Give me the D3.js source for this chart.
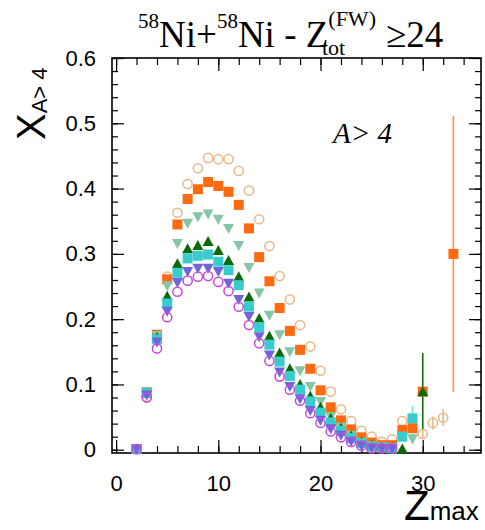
<!DOCTYPE html>
<html><head><meta charset="utf-8">
<script src="https://cdn.jsdelivr.net/npm/d3@7"></script>
<style>body{margin:0;background:#fff}</style>
</head><body>
<svg id="c" width="485" height="530"></svg>
<script>
const zmax = [2,3,4,5,6,7,8,9,10,11,12,13,14,15,16,17,18,19,20,21,22,23,24,25,26,27,28,29,30,31,32,33];
const tanCircle = [0.001,0.081,0.174,0.265,0.363,0.407,0.431,0.447,0.445,0.445,0.427,0.397,0.353,0.312,0.266,0.230,0.191,0.158,0.121,0.089,0.062,0.044,0.029,0.020,0.012,0.016,0.044,null,0.024,0.041,0.049,null];
const orangeSquare = [0.001,0.088,0.176,0.261,0.345,0.384,0.399,0.410,0.404,0.395,0.375,0.339,0.295,0.258,0.217,0.182,0.153,0.124,0.091,0.065,0.045,0.031,0.019,0.011,0.007,0.007,0.030,0.033,0.089,null,null,0.300];
const mintTriangle = [0.001,0.088,0.175,0.251,0.316,0.347,0.357,0.361,0.353,0.339,0.313,0.279,0.240,0.206,0.176,0.150,0.121,0.097,0.074,0.051,0.035,0.022,0.012,0.006,0.004,0.003,null,0.017,null,null,null,null];
const greenTriangle = [0.001,0.087,0.172,0.235,0.285,0.308,0.313,0.319,0.305,0.290,0.265,0.234,0.201,0.174,0.148,0.124,0.100,0.082,0.065,0.048,0.033,0.021,0.012,0.006,0.003,0.002,0.001,null,0.089,null,null,null];
const cyanSquare = [0.001,0.087,0.169,0.224,0.271,0.293,0.297,0.299,0.288,0.275,0.252,0.219,0.188,0.161,0.135,0.113,0.092,0.074,0.057,0.042,0.029,0.018,0.010,0.005,0.003,0.002,0.020,0.048,null,null,null,null];
const purpleTriangle = [0.001,0.084,0.165,0.212,0.256,0.273,0.278,0.278,0.273,0.255,0.230,0.204,0.173,0.145,0.119,0.097,0.078,0.060,0.045,0.032,0.022,0.013,0.007,0.003,0.002,0.002,null,null,null,null,null,null];
const magentaCircle = [0.001,0.080,0.155,0.203,0.242,0.259,0.265,0.266,0.257,0.243,0.219,0.191,0.163,0.136,0.112,0.092,0.075,0.056,0.041,0.028,0.019,0.012,0.006,0.002,0.002,0.002,null,null,null,null,null,null];

const errSeries = ["tan","tan","tan","orange","orange","green","cyan","mint"];
const errZ = [30,31,32,29,33,30,29,29];
const errVal = [0.006,0.010,0.013,0.006,0.211,0.059,0.019,0.008];

const xMajor = [0,10,20,30];
const xMinor = [0,2,4,6,8,10,12,14,16,18,20,22,24,26,28,30,32,34];
const yMajor = [0,0.1,0.2,0.3,0.4,0.5,0.6];
const yMinor = [0,0.02,0.04,0.06,0.08,0.1,0.12,0.14,0.16,0.18,0.2,0.22,0.24,0.26,0.28,0.3,0.32,0.34,0.36,0.38,0.4,0.42,0.44,0.46,0.48,0.5,0.52,0.54,0.56,0.58,0.6];
const xTickLabels = ["0","10","20","30"];
const yTickLabels = ["0","0.1","0.2","0.3","0.4","0.5","0.6"];

const series = [
  {key:"tan", vals:tanCircle, shape:"circleOpen", color:"#e8b888"},
  {key:"orange", vals:orangeSquare, shape:"square", color:"#ff6a10"},
  {key:"mint", vals:mintTriangle, shape:"triDown", color:"#86c6a6"},
  {key:"green", vals:greenTriangle, shape:"triUp", color:"#0a6a0a"},
  {key:"cyan", vals:cyanSquare, shape:"square", color:"#38cccc"},
  {key:"purple", vals:purpleTriangle, shape:"triDown", color:"#7064d8"},
  {key:"magenta", vals:magentaCircle, shape:"circleOpen", color:"#c848dc"}
];
const errColors = {tan:"#e8b888", orange:"#ff8a50", green:"#0a6a0a", cyan:"#7ee0e0", mint:"#a6d6be"};

const svg = d3.select("#c");
const L=112, R=481, T=58, B=453;
const x = d3.scaleLinear().domain([-0.4, 35.7]).range([L, R]);
const y = d3.scaleLinear().domain([-0.005, 0.6]).range([B, T]);

const sans = "'Liberation Sans', Arial, Helvetica, sans-serif";
const serif = "'Liberation Serif', 'Times New Roman', serif";

// axes ticks
function styleAxis(g){ g.select(".domain").remove(); g.selectAll("line").attr("stroke","#000").attr("stroke-width",1.2); }
svg.append("g").attr("transform",`translate(0,${B})`).call(d3.axisBottom(x).tickValues(xMinor).tickSize(-7).tickFormat("")).call(styleAxis);
svg.append("g").attr("transform",`translate(0,${B})`).call(d3.axisBottom(x).tickValues(xMajor).tickSize(-13).tickPadding(22).tickFormat((d,i)=>xTickLabels[i])).call(styleAxis)
  .selectAll("text").attr("font-family",sans).attr("font-size",22).attr("fill","#000");
svg.append("g").attr("transform",`translate(0,${T})`).call(d3.axisTop(x).tickValues(xMinor).tickSize(-7).tickFormat("")).call(styleAxis);
svg.append("g").attr("transform",`translate(0,${T})`).call(d3.axisTop(x).tickValues(xMajor).tickSize(-13).tickFormat("")).call(styleAxis);
svg.append("g").attr("transform",`translate(${L},0)`).call(d3.axisLeft(y).tickValues(yMinor).tickSize(-6).tickFormat("")).call(styleAxis);
svg.append("g").attr("transform",`translate(${L},0)`).call(d3.axisLeft(y).tickValues(yMajor).tickSize(-12).tickPadding(16).tickFormat((d,i)=>yTickLabels[i])).call(styleAxis)
  .selectAll("text").attr("font-family",sans).attr("font-size",22).attr("fill","#000");
svg.append("g").attr("transform",`translate(${R},0)`).call(d3.axisRight(y).tickValues(yMinor).tickSize(-6).tickFormat("")).call(styleAxis);
svg.append("g").attr("transform",`translate(${R},0)`).call(d3.axisRight(y).tickValues(yMajor).tickSize(-12).tickFormat("")).call(styleAxis);

// frame
svg.append("rect").attr("x",L).attr("y",T).attr("width",R-L).attr("height",B-T)
  .attr("fill","none").attr("stroke","#000").attr("stroke-width",1.6);

// error bars
const gE = svg.append("g");
errZ.forEach((z,i)=>{
  const s = series.find(d=>d.key===errSeries[i]);
  const v = s.vals[zmax.indexOf(z)];
  gE.append("line").attr("x1",x(z)).attr("x2",x(z))
    .attr("y1",y(v-errVal[i])).attr("y2",y(v+errVal[i]))
    .attr("stroke",errColors[errSeries[i]]).attr("stroke-width",1.6);
});

// markers
const gM = svg.append("g");
series.forEach(s=>{
  const pts = zmax.map((z,i)=>({z, v:s.vals[i]})).filter(d=>d.v!==null);
  const sel = gM.append("g").selectAll("path").data(pts).enter().append("path")
    .attr("transform",d=>`translate(${x(d.z)},${y(d.v)})`);
  if(s.shape==="square"){
    sel.attr("d","M-5,-5H5V5H-5Z").attr("fill",s.color);
  } else if(s.shape==="triUp"){
    sel.attr("d","M-5.5,4.5L5.5,4.5L0,-5.5Z").attr("fill",s.color);
  } else if(s.shape==="triDown"){
    sel.attr("d","M-5.5,-4.5L5.5,-4.5L0,5.5Z").attr("fill",s.color);
  } else {
    sel.attr("d",d3.arc()({innerRadius:0,outerRadius:4.6,startAngle:0,endAngle:2*Math.PI}))
      .attr("fill","none").attr("stroke",s.color).attr("stroke-width",1.5);
  }
});

// title
const title = svg.append("text").attr("x",138).attr("y",47).attr("font-family",serif).attr("font-size",37).attr("fill","#000");
title.append("tspan").attr("font-size",21).attr("dy",-19).text("58");
title.append("tspan").attr("dy",19).text("Ni+");
title.append("tspan").attr("font-size",21).attr("dy",-19).text("58");
title.append("tspan").attr("dy",19).text("Ni - Z");
title.append("tspan").attr("font-size",22).attr("dy",-21).text("(FW)");
title.append("tspan").attr("font-size",22).attr("x",322).attr("dy",29).text("tot");
title.append("tspan").attr("x",386).attr("dy",-8).text("\u226524");

// annotation
svg.append("text").attr("x",333).attr("y",143).attr("font-family",serif).attr("font-style","italic")
  .attr("font-size",29).attr("fill","#000").text("A> 4");

// x title
const xt = svg.append("text").attr("x",404).attr("y",520).attr("font-family",sans).attr("fill","#000");
xt.append("tspan").attr("font-size",42).text("Z");
xt.append("tspan").attr("font-size",26).attr("dy",0).text("max");

// y title
const yt = svg.append("text").attr("transform","translate(45,140) rotate(-90)").attr("font-family",sans).attr("fill","#000");
yt.append("tspan").attr("font-size",40).text("X");
yt.append("tspan").attr("font-size",22).attr("dy",2).text("A> 4");
</script>
</body></html>
